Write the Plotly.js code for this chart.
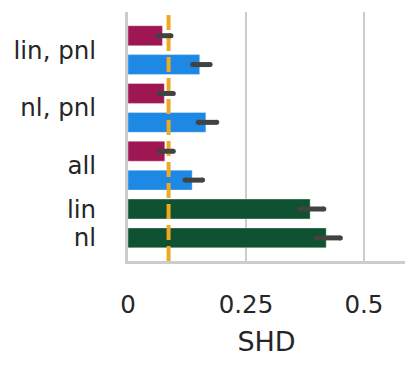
<!DOCTYPE html>
<html>
<head>
<meta charset="utf-8">
<script src="https://cdn.plot.ly/plotly-3.0.1.min.js"></script>
<style>
  html, body { margin: 0; padding: 0; background: #fff; }
  #chart { width: 416px; height: 369px; }
</style>
</head>
<body>
<div id="chart"></div>
<script>
// ---- data ----
const groupLabels = ["lin, pnl", "nl, pnl", "all", "lin", "nl"];
// series present in each group (order inside group, top to bottom)
const groupSeries = [["crimson", "blue"], ["crimson", "blue"], ["crimson", "blue"], ["green"], ["green"]];

const crimsonValues = [0.073, 0.077, 0.078];
const crimsonLow    = [0.064, 0.067, 0.067];
const crimsonHigh   = [0.091, 0.096, 0.096];

const blueValues = [0.152, 0.165, 0.136];
const blueLow    = [0.137, 0.149, 0.121];
const blueHigh   = [0.174, 0.188, 0.158];

const greenValues = [0.386, 0.420];
const greenLow    = [0.364, 0.399];
const greenHigh   = [0.415, 0.450];

const referenceValue = 0.086;

const xTickVals = [0, 0.25, 0.5];
const xTickText = ["0", "0.25", "0.5"];
const xTitle = "SHD";

// ---- build slot positions ----
const colors = { crimson: "#9e1753", blue: "#1e88e5", green: "#0f5232" };
const series = {
  crimson: { v: crimsonValues, lo: crimsonLow, hi: crimsonHigh },
  blue:    { v: blueValues,    lo: blueLow,    hi: blueHigh },
  green:   { v: greenValues,   lo: greenLow,   hi: greenHigh }
};
const pos = { crimson: [], blue: [], green: [] };
const tickPos = [];
let slot = 0;
groupSeries.forEach(function (list) {
  const start = slot;
  list.forEach(function (name) { pos[name].push(slot); slot++; });
  tickPos.push((start + slot - 1) / 2);
});
const yRange = [slot - 1 + 0.8, -0.82];

const traces = [];
["crimson", "blue", "green"].forEach(function (name) {
  traces.push({
    type: "bar", orientation: "h",
    x: series[name].v, y: pos[name],
    width: 0.69,
    marker: { color: colors[name], line: { color: "rgba(255,255,255,0.35)", width: 1 } },
    hoverinfo: "skip", showlegend: false
  });
});

// reference dashed line (drawn from bottom to top)
traces.push({
  type: "scatter", mode: "lines",
  x: [referenceValue, referenceValue], y: [yRange[0], yRange[1]],
  line: { color: "#eeaa22", width: 4, dash: "15px,6px" },
  hoverinfo: "skip", showlegend: false, cliponaxis: false
});

// error bars
["crimson", "blue", "green"].forEach(function (name) {
  const s = series[name];
  s.v.forEach(function (_, i) {
    traces.push({
      type: "scatter", mode: "lines+markers",
      x: [s.lo[i], s.hi[i]], y: [pos[name][i], pos[name][i]],
      line: { color: "#424242", width: 5 },
      marker: { color: "#424242", size: 5 },
      hoverinfo: "skip", showlegend: false, cliponaxis: false
    });
  });
});

const font = { family: "DejaVu Sans, sans-serif", color: "#262626" };

const layout = {
  width: 416, height: 369,
  margin: { l: 128, r: 11, t: 12, b: 108 },
  paper_bgcolor: "#ffffff", plot_bgcolor: "#ffffff",
  showlegend: false,
  font: font,
  xaxis: {
    range: [0, 0.587],
    tickvals: xTickVals, ticktext: xTickText,
    tickfont: { family: font.family, size: 24.5, color: "#262626" },
    showgrid: true, gridcolor: "#cccccc", gridwidth: 2,
    zeroline: false,
    showline: true, linecolor: "#cccccc", linewidth: 3,
    ticks: "", ticklabelstandoff: 20,
    title: { text: xTitle, font: { family: font.family, size: 27, color: "#262626" }, standoff: 14 },
    fixedrange: true
  },
  yaxis: {
    range: yRange,
    tickvals: tickPos, ticktext: groupLabels,
    tickfont: { family: font.family, size: 24.5, color: "#262626" },
    showgrid: false, zeroline: false,
    showline: true, linecolor: "#cccccc", linewidth: 3,
    ticks: "", ticklabelstandoff: 24,
    fixedrange: true
  }
};

Plotly.newPlot("chart", traces, layout, { displayModeBar: false, staticPlot: true });
</script>
</body>
</html>
